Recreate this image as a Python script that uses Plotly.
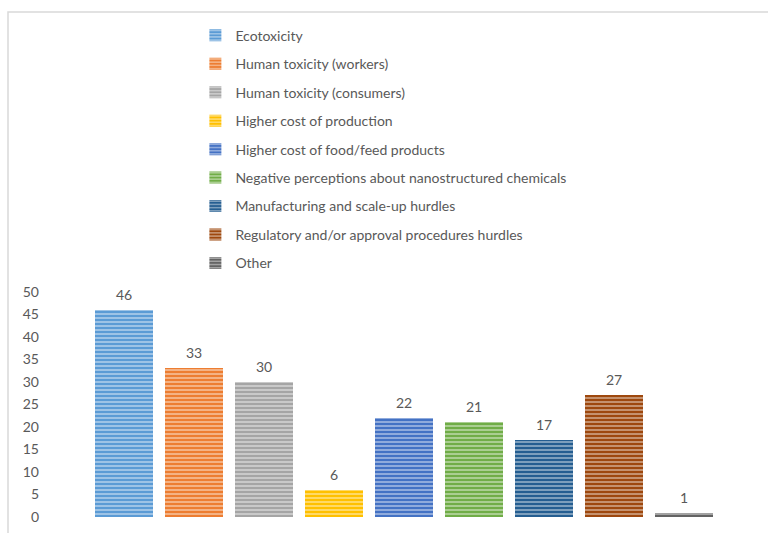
import plotly.graph_objects as go

# Survey results: perceived barriers, number of responses per option
categories = [
    "Ecotoxicity",
    "Human toxicity (workers)",
    "Human toxicity (consumers)",
    "Higher cost of production",
    "Higher cost of food/feed products",
    "Negative perceptions about nanostructured chemicals",
    "Manufacturing and scale-up hurdles",
    "Regulatory and/or approval procedures hurdles",
    "Other",
]
values = [46, 33, 30, 6, 22, 21, 17, 27, 1]
colors = ["#5B9BD5", "#ED7D31", "#A5A5A5", "#FFC000", "#4472C4",
          "#70AD47", "#255E91", "#9E480E", "#636363"]
y_ticks = [0, 5, 10, 15, 20, 25, 30, 35, 40, 45, 50]

FONT = "Lato"
TEXT = "#595959"

fig = go.Figure()
for name, val, col in zip(categories, values, colors):
    fig.add_trace(go.Bar(
        x=[name], y=[val], name=name, legendgroup=name,
        marker=dict(
            color=col,
            line=dict(width=0),
            pattern=dict(shape="-", fgcolor="white", fgopacity=0.45,
                         size=4, solidity=0.45),
        ),
        hoverinfo="x+y",
    ))
    fig.add_annotation(x=name, y=val, text=str(val), showarrow=False,
                       yanchor="bottom", yshift=5,
                       font=dict(family=FONT, size=14, color=TEXT))

fig.update_layout(
    width=768, height=533,
    margin=dict(l=40, r=8, t=12, b=12),
    paper_bgcolor="white", plot_bgcolor="white",
    barmode="stack", bargap=0.17,
    font=dict(family=FONT, size=14, color=TEXT),
    showlegend=True,
    legend=dict(
        x=0.2158, y=0.9847, xanchor="left", yanchor="top",
        orientation="v", tracegroupgap=7.25, itemwidth=30,
        font=dict(family=FONT, size=14, color=TEXT),
        bgcolor="rgba(0,0,0,0)",
    ),
    xaxis=dict(range=[-1.2, 9.086], showticklabels=False, showgrid=False,
               zeroline=False, showline=False, ticks=""),
    yaxis=dict(range=[0, 112.2], tickvals=y_ticks, showgrid=False,
               zeroline=False, showline=False, ticks="",
               tickfont=dict(family=FONT, size=14, color=TEXT)),
    shapes=[dict(type="rect", xref="paper", yref="paper",
                 x0=(8 - 40) / 720, x1=1.2, y0=-0.2, y1=1.0,
                 line=dict(color="#D9D9D9", width=1.5),
                 fillcolor="rgba(0,0,0,0)", layer="below")],
)

fig.write_html("out.html")
